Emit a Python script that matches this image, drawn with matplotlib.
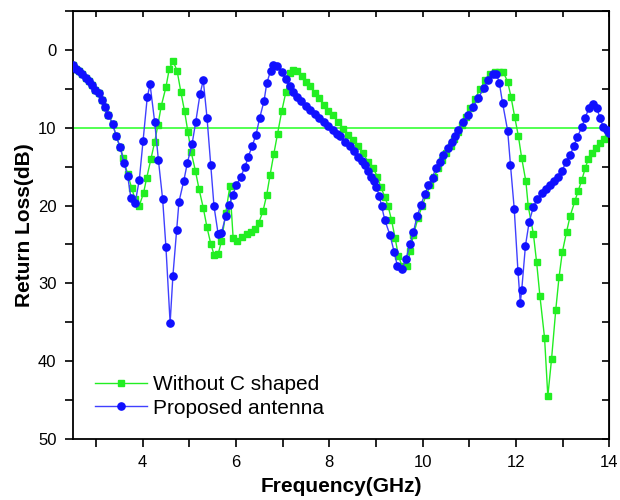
import matplotlib
matplotlib.use("Agg")
import matplotlib.pyplot as plt
from matplotlib.lines import Line2D

plt.rcParams["font.family"] = ["Liberation Sans", "DejaVu Sans"]

# proposed antenna (blue circles)
blue_x = [2.50, 2.57, 2.64, 2.71, 2.78, 2.85, 2.91, 2.98, 3.06, 3.13, 3.20, 3.27,
          3.36, 3.43, 3.52, 3.60, 3.68, 3.75, 3.84, 3.93, 4.01, 4.10, 4.16, 4.26,
          4.34, 4.43, 4.50, 4.59, 4.65, 4.73, 4.78, 4.88, 4.96, 5.06, 5.14, 5.23,
          5.30, 5.38, 5.46, 5.53, 5.62, 5.69, 5.78, 5.86, 5.93, 6.01, 6.10, 6.19,
          6.26, 6.35, 6.43, 6.51, 6.60, 6.66, 6.74, 6.80, 6.88, 6.98, 7.07, 7.16,
          7.23, 7.31, 7.40, 7.50, 7.58, 7.69, 7.78, 7.88, 7.98, 8.07, 8.16, 8.23,
          8.33, 8.44, 8.53, 8.62, 8.70, 8.76, 8.83, 8.90, 8.96, 9.01, 9.07, 9.12,
          9.19, 9.30, 9.39, 9.46, 9.55, 9.64, 9.73, 9.80, 9.88, 9.96, 10.05, 10.12,
          10.21, 10.28, 10.37, 10.44, 10.55, 10.62, 10.69, 10.76, 10.86, 10.96, 11.08,
          11.19, 11.31, 11.40, 11.51, 11.58, 11.64, 11.71, 11.82, 11.88, 11.96, 12.04,
          12.09, 12.12, 12.20, 12.28, 12.37, 12.45, 12.55, 12.64, 12.72, 12.82, 12.90,
          12.98, 13.07, 13.16, 13.24, 13.31, 13.41, 13.48, 13.56, 13.64, 13.73, 13.80,
          13.87, 13.94, 14.00]
blue_y = [1.9, 2.4, 2.7, 3.1, 3.6, 4.0, 4.5, 5.1, 5.6, 6.4, 7.3, 8.4,
          9.5, 11.0, 12.5, 14.5, 16.2, 19.0, 19.7, 16.7, 11.7, 6.1, 4.4, 9.3,
          14.2, 19.2, 25.3, 35.1, 29.0, 23.1, 19.5, 16.9, 14.5, 12.1, 9.2, 5.7,
          3.9, 8.7, 14.8, 20.1, 23.7, 23.5, 21.4, 19.9, 18.6, 17.4, 16.3, 15.1,
          13.8, 12.3, 10.9, 8.7, 6.6, 4.3, 2.7, 1.9, 2.1, 2.8, 3.8, 4.6,
          5.4, 6.0, 6.6, 7.2, 7.7, 8.2, 8.8, 9.3, 9.8, 10.3, 10.8, 11.1,
          11.8, 12.4, 13.0, 13.7, 14.3, 14.8, 15.5, 16.3, 16.9, 17.6, 18.8, 20.1,
          21.9, 23.8, 26.0, 27.8, 28.2, 26.9, 24.9, 23.4, 21.4, 19.9, 18.5, 17.4,
          16.4, 15.2, 14.4, 13.5, 12.6, 11.8, 11.1, 10.3, 9.3, 8.4, 7.3,
          6.2, 4.9, 3.9, 3.1, 3.1, 4.2, 6.8, 10.4, 14.8, 20.4, 28.4,
          32.5, 30.9, 25.2, 22.1, 20.2, 19.2, 18.4, 17.9, 17.4, 16.8, 16.3,
          15.6, 14.4, 13.5, 12.3, 11.2, 9.9, 8.7, 7.5, 6.9, 7.5, 8.8,
          9.9, 10.3, 10.7]

# without C shaped (green squares)
green_x = [2.50, 2.57, 2.64, 2.71, 2.78, 2.85, 2.91, 2.98, 3.06, 3.13, 3.20, 3.27,
           3.36, 3.43, 3.52, 3.59, 3.68, 3.77, 3.84, 3.93, 4.02, 4.09, 4.18, 4.26,
           4.33, 4.40, 4.50, 4.57, 4.65, 4.74, 4.82, 4.90, 4.97, 5.04, 5.13, 5.21,
           5.30, 5.38, 5.46, 5.53, 5.62, 5.69, 5.78, 5.87, 5.94, 6.03, 6.12, 6.23,
           6.32, 6.41, 6.49, 6.58, 6.66, 6.73, 6.81, 6.89, 6.98, 7.07, 7.16, 7.23,
           7.31, 7.41, 7.50, 7.58, 7.69, 7.78, 7.88, 7.98, 8.08, 8.19, 8.30, 8.41,
           8.51, 8.62, 8.73, 8.83, 8.94, 9.03, 9.10, 9.19, 9.26, 9.33, 9.41, 9.48,
           9.56, 9.66, 9.73, 9.80, 9.90, 9.99, 10.08, 10.16, 10.25, 10.33, 10.42,
           10.50, 10.60, 10.68, 10.76, 10.84, 10.93, 11.02, 11.12, 11.23, 11.34, 11.45,
           11.55, 11.64, 11.73, 11.82, 11.89, 11.97, 12.05, 12.12, 12.21, 12.26, 12.37,
           12.44, 12.51, 12.61, 12.68, 12.76, 12.85, 12.92, 12.99, 13.08, 13.16, 13.26,
           13.33, 13.41, 13.48, 13.55, 13.63, 13.71, 13.80, 13.88, 13.96, 14.00]
green_y = [1.9, 2.4, 2.7, 3.1, 3.6, 4.0, 4.5, 5.1, 5.6, 6.4, 7.3, 8.4,
           9.5, 11.0, 12.5, 13.9, 16.0, 17.8, 19.2, 20.0, 18.4, 16.4, 14.0, 11.8,
           9.6, 7.2, 4.8, 2.5, 1.4, 2.7, 5.4, 7.9, 10.5, 13.1, 15.5, 17.9,
           20.3, 22.8, 24.9, 26.3, 26.2, 24.6, 21.0, 17.5, 24.2, 24.6, 24.1, 23.7,
           23.4, 23.0, 22.2, 20.7, 18.6, 16.1, 13.4, 10.8, 7.9, 5.4, 3.0, 2.6,
           2.7, 3.4, 4.1, 4.7, 5.5, 6.2, 7.1, 7.8, 8.4, 9.2, 10.1, 10.9,
           11.6, 12.3, 13.3, 14.4, 15.2, 16.3, 17.6, 18.9, 20.1, 21.8, 24.2, 26.5,
           27.8, 27.8, 25.9, 23.8, 21.6, 20.0, 18.6, 17.4, 16.3, 15.2, 14.2,
           13.3, 12.3, 11.4, 10.6, 9.6, 8.6, 7.5, 6.3, 5.0, 3.9, 3.1,
           2.8, 2.8, 2.9, 4.1, 6.0, 8.6, 11.1, 13.9, 16.9, 20.1, 23.6,
           27.3, 31.6, 37.0, 44.5, 39.7, 33.4, 29.2, 26.0, 23.4, 21.3, 19.4,
           18.1, 16.7, 15.2, 14.0, 13.3, 12.6, 12.0, 11.4, 10.8, 10.5]

REF_LEVEL = 10

GREEN = "#22ee22"
BLUE = "#1010ff"

fig = plt.figure(figsize=(6.2, 5.0), dpi=100)
ax = fig.add_axes([0.117, 0.122, 0.866, 0.856])

ax.axhline(REF_LEVEL, color="#44ff44", lw=1.3, zorder=1)
ax.plot(green_x, green_y, "-s", color=GREEN, lw=1.0, ms=4.2, mec=GREEN, zorder=2)
ax.plot(blue_x, blue_y, "-o", color="#4040ff", lw=1.0, ms=5.2,
        mfc=BLUE, mec=BLUE, zorder=3)

ax.set_xlim(2.5, 14)
ax.set_ylim(50, -5)
ax.set_xticks([4, 6, 8, 10, 12, 14])
ax.set_xticks([3, 5, 7, 9, 11, 13], minor=True)
ax.set_yticks([0, 10, 20, 30, 40, 50])
ax.set_yticks([-5, 5, 15, 25, 35, 45], minor=True)
ax.tick_params(which="both", direction="out", length=5.5, width=1.2, labelsize=12,
               pad=6, top=False, right=False)
for s in ax.spines.values():
    s.set_linewidth(1.3)

# mirrored inward ticks on top / right
top = ax.secondary_xaxis("top")
top.set_xticks([3, 4, 5, 6, 7, 8, 9, 10, 11, 12, 13, 14])
top.tick_params(direction="in", length=4.5, width=1.2, labeltop=False)
right = ax.secondary_yaxis("right")
right.set_yticks([-5, 0, 5, 10, 15, 20, 25, 30, 35, 40, 45, 50])
right.tick_params(direction="in", length=5, width=1.2, labelright=False)

ax.set_xlabel("Frequency(GHz)", fontsize=15, fontweight="bold", labelpad=5)
ax.set_ylabel("Return Loss(dB)", fontsize=15, fontweight="bold", labelpad=3)

handles = [
    Line2D([], [], color=GREEN, marker="s", ms=4.2, lw=1.0),
    Line2D([], [], color="#4040ff", marker="o", ms=5.2, mfc=BLUE, mec=BLUE, lw=1.0),
]
ax.legend(handles, ["Without C shaped", "Proposed antenna"], loc="lower left",
          bbox_to_anchor=(0.041, 0.05), frameon=False, fontsize=15,
          handlelength=2.5, handletextpad=0.3, labelspacing=0.2,
          borderpad=0, borderaxespad=0)

fig.savefig("out.png", dpi=100)
